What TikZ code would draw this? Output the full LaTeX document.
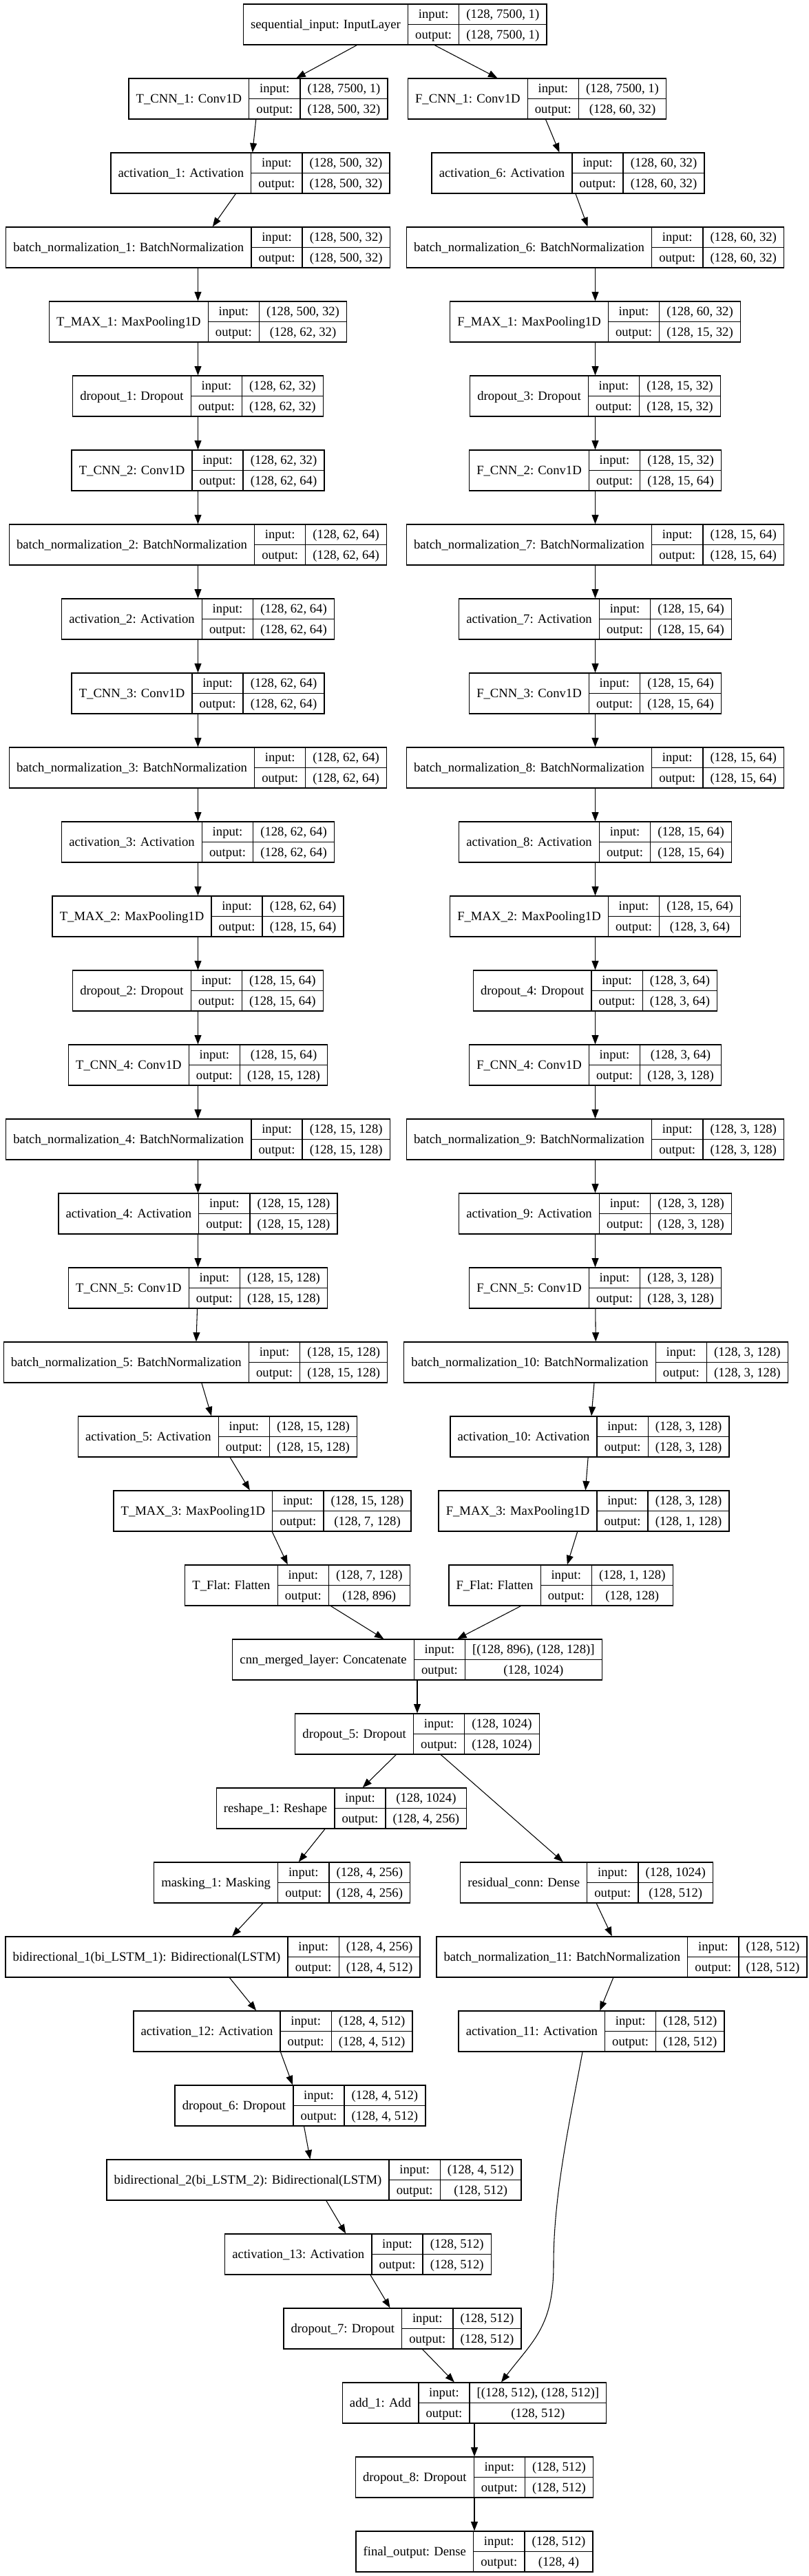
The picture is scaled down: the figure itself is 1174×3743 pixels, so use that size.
\documentclass[tikz,border=0pt]{standalone}
\usepackage{fontspec}
\setmainfont{Liberation Serif}
\usetikzlibrary{arrows.meta,fit}
\newlength\kwn \newlength\kwa \newlength\kwb \newlength\kwl \newlength\kwt
\newcommand\kfont{\fontsize{14}{17}\selectfont}
\tikzset{
 cell/.style={draw, line width=1pt, outer sep=0pt, inner xsep=0pt, inner ysep=0pt, text height=12pt, text depth=2.8pt, align=center, font=\kfont},
 cellm/.style={inner xsep=8pt, inner ysep=0pt, outer sep=0pt, font=\kfont},
 edge/.style={line width=0.8pt, -{Triangle[length=10pt,width=7.5pt]}},
}
\newcommand\kmeasure[2]{%
 \node[cellm] (kmeas) at (0,0) {\phantom{#2}};%
 \pgfextractx{#1}{\pgfpointdiff{\pgfpointanchor{kmeas}{west}}{\pgfpointanchor{kmeas}{east}}}%
}
\newcommand\layer[6]{%
 \kmeasure\kwn{#4}\kmeasure\kwa{#5}\kmeasure\kwb{#6}%
 \ifdim\kwb>\kwa \kwa=\kwb \fi
 \kwt=\kwn \advance\kwt\kwl \advance\kwt\kwa \kwt=0.5\kwt
 \coordinate (#1c) at (#2,{6+108*#3});
 \node[cell, minimum width=\kwn, minimum height=44.25pt, anchor=north west] (#1n) at ([xshift=-\kwt]#1c) {#4};
 \node[cell, minimum width=\kwl, minimum height=22.125pt, anchor=north west] (#1i) at (#1n.north east) {input:};
 \node[cell, minimum width=\kwl, minimum height=22.125pt, anchor=north west] (#1o) at (#1i.south west) {output:};
 \node[cell, minimum width=\kwa, minimum height=22.125pt, anchor=north west] (#1a) at (#1i.north east) {#5};
 \node[cell, minimum width=\kwa, minimum height=22.125pt, anchor=north west] (#1b) at (#1a.south west) {#6};
 \node[fit=(#1n)(#1a)(#1b), inner sep=0pt, outer sep=0.5pt] (#1) {};
}
\begin{document}
\begin{tikzpicture}[x=0.75pt,y=-0.75pt]
\fill[white] (0,0) rectangle (1174,3743);
\useasboundingbox (0,0) rectangle (1174,3743);
\kmeasure\kwl{output:}

\layer{seq}{573.7}{0}{sequential\_input: InputLayer}{(128, 7500, 1)}{(128, 7500, 1)}
\layer{tc1}{375}{1}{T\_CNN\_1: Conv1D}{(128, 7500, 1)}{(128, 500, 32)}
\layer{fc1}{780}{1}{F\_CNN\_1: Conv1D}{(128, 7500, 1)}{(128, 60, 32)}
\layer{a1}{363.5}{2}{activation\_1: Activation}{(128, 500, 32)}{(128, 500, 32)}
\layer{a6}{825}{2}{activation\_6: Activation}{(128, 60, 32)}{(128, 60, 32)}
\layer{b1}{287.5}{3}{batch\_normalization\_1: BatchNormalization}{(128, 500, 32)}{(128, 500, 32)}
\layer{b6}{864.5}{3}{batch\_normalization\_6: BatchNormalization}{(128, 60, 32)}{(128, 60, 32)}
\layer{tm1}{287.5}{4}{T\_MAX\_1: MaxPooling1D}{(128, 500, 32)}{(128, 62, 32)}
\layer{fm1}{864.5}{4}{F\_MAX\_1: MaxPooling1D}{(128, 60, 32)}{(128, 15, 32)}
\layer{d1}{287.5}{5}{dropout\_1: Dropout}{(128, 62, 32)}{(128, 62, 32)}
\layer{d3}{864.5}{5}{dropout\_3: Dropout}{(128, 15, 32)}{(128, 15, 32)}
\layer{tc2}{287.5}{6}{T\_CNN\_2: Conv1D}{(128, 62, 32)}{(128, 62, 64)}
\layer{fc2}{864.5}{6}{F\_CNN\_2: Conv1D}{(128, 15, 32)}{(128, 15, 64)}
\layer{b2}{287.5}{7}{batch\_normalization\_2: BatchNormalization}{(128, 62, 64)}{(128, 62, 64)}
\layer{b7}{864.5}{7}{batch\_normalization\_7: BatchNormalization}{(128, 15, 64)}{(128, 15, 64)}
\layer{a2}{287.5}{8}{activation\_2: Activation}{(128, 62, 64)}{(128, 62, 64)}
\layer{a7}{864.5}{8}{activation\_7: Activation}{(128, 15, 64)}{(128, 15, 64)}
\layer{tc3}{287.5}{9}{T\_CNN\_3: Conv1D}{(128, 62, 64)}{(128, 62, 64)}
\layer{fc3}{864.5}{9}{F\_CNN\_3: Conv1D}{(128, 15, 64)}{(128, 15, 64)}
\layer{b3}{287.5}{10}{batch\_normalization\_3: BatchNormalization}{(128, 62, 64)}{(128, 62, 64)}
\layer{b8}{864.5}{10}{batch\_normalization\_8: BatchNormalization}{(128, 15, 64)}{(128, 15, 64)}
\layer{a3}{287.5}{11}{activation\_3: Activation}{(128, 62, 64)}{(128, 62, 64)}
\layer{a8}{864.5}{11}{activation\_8: Activation}{(128, 15, 64)}{(128, 15, 64)}
\layer{tm2}{287.5}{12}{T\_MAX\_2: MaxPooling1D}{(128, 62, 64)}{(128, 15, 64)}
\layer{fm2}{864.5}{12}{F\_MAX\_2: MaxPooling1D}{(128, 15, 64)}{(128, 3, 64)}
\layer{d2}{287.5}{13}{dropout\_2: Dropout}{(128, 15, 64)}{(128, 15, 64)}
\layer{d4}{864.5}{13}{dropout\_4: Dropout}{(128, 3, 64)}{(128, 3, 64)}
\layer{tc4}{287.5}{14}{T\_CNN\_4: Conv1D}{(128, 15, 64)}{(128, 15, 128)}
\layer{fc4}{864.5}{14}{F\_CNN\_4: Conv1D}{(128, 3, 64)}{(128, 3, 128)}
\layer{b4}{287.5}{15}{batch\_normalization\_4: BatchNormalization}{(128, 15, 128)}{(128, 15, 128)}
\layer{b9}{864.5}{15}{batch\_normalization\_9: BatchNormalization}{(128, 3, 128)}{(128, 3, 128)}
\layer{a4}{287.5}{16}{activation\_4: Activation}{(128, 15, 128)}{(128, 15, 128)}
\layer{a9}{864.5}{16}{activation\_9: Activation}{(128, 3, 128)}{(128, 3, 128)}
\layer{tc5}{287.5}{17}{T\_CNN\_5: Conv1D}{(128, 15, 128)}{(128, 15, 128)}
\layer{fc5}{864.5}{17}{F\_CNN\_5: Conv1D}{(128, 3, 128)}{(128, 3, 128)}
\layer{b5}{284}{18}{batch\_normalization\_5: BatchNormalization}{(128, 15, 128)}{(128, 15, 128)}
\layer{b10}{865.5}{18}{batch\_normalization\_10: BatchNormalization}{(128, 3, 128)}{(128, 3, 128)}
\layer{a5}{316}{19}{activation\_5: Activation}{(128, 15, 128)}{(128, 15, 128)}
\layer{a10}{856.5}{19}{activation\_10: Activation}{(128, 3, 128)}{(128, 3, 128)}
\layer{tm3}{381}{20}{T\_MAX\_3: MaxPooling1D}{(128, 15, 128)}{(128, 7, 128)}
\layer{fm3}{848}{20}{F\_MAX\_3: MaxPooling1D}{(128, 3, 128)}{(128, 1, 128)}
\layer{tf}{432}{21}{T\_Flat: Flatten}{(128, 7, 128)}{(128, 896)}
\layer{ff}{814.5}{21}{F\_Flat: Flatten}{(128, 1, 128)}{(128, 128)}
\layer{cm}{606}{22}{cnn\_merged\_layer: Concatenate}{[(128, 896), (128, 128)]}{(128, 1024)}
\layer{d5}{606}{23}{dropout\_5: Dropout}{(128, 1024)}{(128, 1024)}
\layer{rs}{496}{24}{reshape\_1: Reshape}{(128, 1024)}{(128, 4, 256)}
\layer{mk}{409.7}{25}{masking\_1: Masking}{(128, 4, 256)}{(128, 4, 256)}
\layer{rc}{852}{25}{residual\_conn: Dense}{(128, 1024)}{(128, 512)}
\layer{bi1}{309}{26}{bidirectional\_1(bi\_LSTM\_1): Bidirectional(LSTM)}{(128, 4, 256)}{(128, 4, 512)}
\layer{b11}{903}{26}{batch\_normalization\_11: BatchNormalization}{(128, 512)}{(128, 512)}
\layer{a12}{396.5}{27}{activation\_12: Activation}{(128, 4, 512)}{(128, 4, 512)}
\layer{a11}{859}{27}{activation\_11: Activation}{(128, 512)}{(128, 512)}
\layer{d6}{436}{28}{dropout\_6: Dropout}{(128, 4, 512)}{(128, 4, 512)}
\layer{bi2}{456}{29}{bidirectional\_2(bi\_LSTM\_2): Bidirectional(LSTM)}{(128, 4, 512)}{(128, 512)}
\layer{a13}{520}{30}{activation\_13: Activation}{(128, 512)}{(128, 512)}
\layer{d7}{584.5}{31}{dropout\_7: Dropout}{(128, 512)}{(128, 512)}
\layer{ad}{689}{32}{add\_1: Add}{[(128, 512), (128, 512)]}{(128, 512)}
\layer{d8}{689}{33}{dropout\_8: Dropout}{(128, 512)}{(128, 512)}
\layer{fo}{689}{34}{final\_output: Dense}{(128, 512)}{(128, 4)}

\foreach \u/\v in {seq/tc1, seq/fc1,
  tc1/a1, a1/b1, b1/tm1, tm1/d1, d1/tc2, tc2/b2, b2/a2, a2/tc3, tc3/b3, b3/a3, a3/tm2, tm2/d2, d2/tc4, tc4/b4, b4/a4, a4/tc5, tc5/b5, b5/a5, a5/tm3, tm3/tf, tf/cm,
  fc1/a6, a6/b6, b6/fm1, fm1/d3, d3/fc2, fc2/b7, b7/a7, a7/fc3, fc3/b8, b8/a8, a8/fm2, fm2/d4, d4/fc4, fc4/b9, b9/a9, a9/fc5, fc5/b10, b10/a10, a10/fm3, fm3/ff, ff/cm,
  cm/d5, d5/rs, rs/mk, mk/bi1, bi1/a12, a12/d6, d6/bi2, bi2/a13, a13/d7, d7/ad,
  d5/rc, rc/b11, b11/a11, ad/d8, d8/fo}
  \draw[edge] (\u) -- (\v);
\draw[edge] ([shift={(-13,0)}]a11.south) .. controls (826,3090) and (804,3190) .. (804,3290)
  .. controls (804,3380) and (775,3400) .. ([shift={(39,0)}]ad.north);
\end{tikzpicture}
\end{document}
